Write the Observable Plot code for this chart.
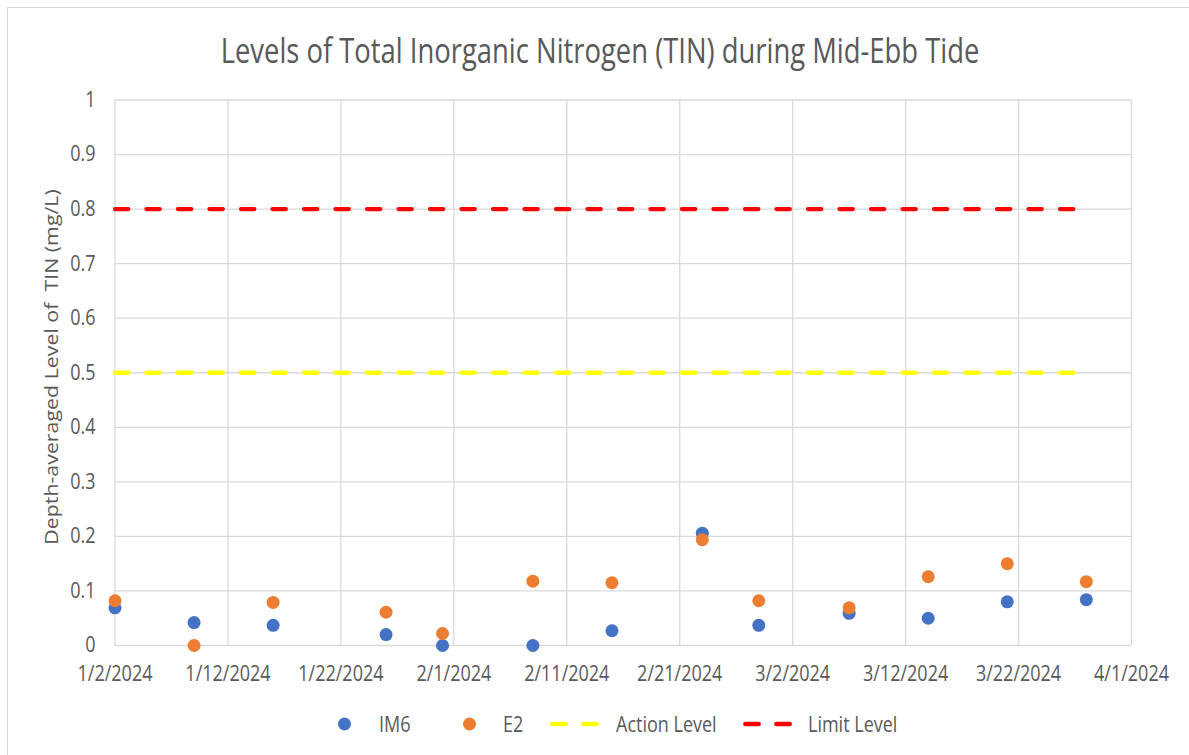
<!DOCTYPE html>
<html>
<head>
<meta charset="utf-8">
<script src="https://cdn.jsdelivr.net/npm/d3@7"></script>
<script src="https://cdn.jsdelivr.net/npm/@observablehq/plot@0.6"></script>
<style>
  body { margin: 0; background: #fff; }
  #wrap { position: relative; width: 1189px; height: 755px; overflow: hidden; font-family: "Open Sans", sans-serif; color: #595959; background: #fff; }
  #border { position: absolute; left: 7px; top: 7px; width: 1400px; height: 1000px; border: 1px solid #d9d9d9; box-sizing: border-box; }
  #chart { position: absolute; left: 0; top: 0; }
  #title { position: absolute; left: 0; width: 1200px; top: 38px; text-align: center; line-height: 1; white-space: nowrap; transform-origin: 50% 22px; transform: scaleY(1.25); }
  #ylabel { position: absolute; left: 52px; top: 367px; transform: translate(-50%, -50%) rotate(-90deg) scaleX(1.22); font-size: 17.5px; white-space: pre; line-height: 1; }
  .leg { position: absolute; top: 724px; transform: translateY(-50%); font-size: 18px; line-height: 1; white-space: nowrap; }
  .legtext { transform: translateY(-50%) scaleY(1.16); }
  .dot { width: 13px; height: 13px; border-radius: 50%; }
</style>
</head>
<body>
<div id="wrap">
  <div id="border"></div>
  <div id="chart"></div>
  <div id="title"></div>
  <div id="ylabel"></div>
  <div id="legend"></div>
</div>
<script>
// ---- data ----
const titleText = "Levels of Total Inorganic Nitrogen (TIN) during Mid-Ebb Tide";
const yLabelText = "Depth-averaged Level of  TIN (mg/L)";
const sampleDates = ["2024-01-02","2024-01-09","2024-01-16","2024-01-26","2024-01-31","2024-02-08","2024-02-15","2024-02-23","2024-02-28","2024-03-07","2024-03-14","2024-03-21","2024-03-28"];
const im6Values = [0.069,0.042,0.037,0.020,0.000,0.000,0.027,0.206,0.037,0.059,0.050,0.080,0.084];
const e2Values  = [0.082,0.000,0.079,0.061,0.022,0.118,0.115,0.194,0.082,0.069,0.126,0.150,0.117];
const levelDates = ["2024-01-02","2024-03-28"];
const actionLevel = 0.5;
const limitLevel = 0.8;
const xTickDates = ["2024-01-02","2024-01-12","2024-01-22","2024-02-01","2024-02-11","2024-02-21","2024-03-02","2024-03-12","2024-03-22","2024-04-01"];
const yTicks = [0,0.1,0.2,0.3,0.4,0.5,0.6,0.7,0.8,0.9,1];
const seriesNames = ["IM6","E2","Action Level","Limit Level"];
const seriesColors = ["#4472C4","#ED7D31","#FFFF00","#FF0000"];

// ---- build ----
const parse = s => new Date(s + "T00:00:00Z");
const im6 = sampleDates.map((d,i) => ({date: parse(d), v: im6Values[i]}));
const e2 = sampleDates.map((d,i) => ({date: parse(d), v: e2Values[i]}));
const action = levelDates.map(d => ({date: parse(d), v: actionLevel}));
const limit = levelDates.map(d => ({date: parse(d), v: limitLevel}));
const xTicks = xTickDates.map(parse);
const fmt = d3.utcFormat("%-m/%-d/%Y");
const gridStyle = {stroke: "#d9d9d9", strokeOpacity: 1, strokeWidth: 1.3};
const dash = {strokeWidth: 4.3, strokeDasharray: "13.3,18.2", strokeLinecap: "round"};

const chart = Plot.plot({
  width: 1189,
  height: 755,
  marginLeft: 114.5,
  marginRight: 58,
  marginTop: 99.5,
  marginBottom: 110,
  style: {fontFamily: "'Open Sans', sans-serif", fontSize: "18px", color: "#595959", background: "transparent", overflow: "visible"},
  x: {type: "utc", domain: [xTicks[0], xTicks[xTicks.length-1]]},
  y: {domain: [0, 1]},
  marks: [
    Plot.gridX(xTicks, gridStyle),
    Plot.gridY(yTicks, gridStyle),
    Plot.axisX(xTicks, {tickSize: 0, tickPadding: 22, tickFormat: fmt, label: null, fontSize: 18}),
    Plot.axisY(yTicks, {tickSize: 0, tickPadding: 19.5, tickFormat: d => String(+d.toFixed(1)), label: null, fontSize: 18}),
    Plot.line(action, {x: "date", y: "v", stroke: seriesColors[2], ...dash}),
    Plot.line(limit, {x: "date", y: "v", stroke: seriesColors[3], ...dash}),
    Plot.dot(im6, {x: "date", y: "v", r: 6.5, fill: seriesColors[0], stroke: "none"}),
    Plot.dot(e2, {x: "date", y: "v", r: 6.5, fill: seriesColors[1], stroke: "none"})
  ]
});
document.getElementById("chart").appendChild(chart);

// stretch the axis text vertically about its own centre (reference glyphs are tall)
chart.querySelectorAll("text").forEach(t => {
  const b = t.getBBox();
  const cy = b.y + b.height / 2;
  const tr = t.getAttribute("transform") || "";
  t.setAttribute("transform", `${tr} translate(0,${cy}) scale(1,1.16) translate(0,${-cy})`);
});

// title fitted to the reference width
const titleEl = document.getElementById("title");
titleEl.textContent = titleText;
const ctx = document.createElement("canvas").getContext("2d");
ctx.font = '100px "Open Sans"';
const tw = ctx.measureText(titleText).width;
titleEl.style.fontSize = (759 / tw * 100).toFixed(2) + "px";

document.getElementById("ylabel").textContent = yLabelText;

// legend
const legend = document.getElementById("legend");
const legendLayout = [
  {kind: "dot", swatchLeft: 337.5, textLeft: 379},
  {kind: "dot", swatchLeft: 462.5, textLeft: 503},
  {kind: "dash", swatchLeft: 550, textLeft: 616},
  {kind: "dash", swatchLeft: 743, textLeft: 808}
];
legendLayout.forEach((L, i) => {
  const sw = document.createElement("div");
  sw.className = "leg";
  sw.style.left = L.swatchLeft + "px";
  if (L.kind === "dot") {
    sw.innerHTML = `<div class="dot" style="background:${seriesColors[i]}"></div>`;
  } else {
    sw.innerHTML = `<svg width="49" height="10" style="display:block"><line x1="2.2" x2="46.8" y1="5" y2="5" stroke="${seriesColors[i]}" stroke-width="4.3" stroke-linecap="round" stroke-dasharray="13.6,17.4"/></svg>`;
  }
  legend.appendChild(sw);
  const tx = document.createElement("div");
  tx.className = "leg legtext";
  tx.style.left = L.textLeft + "px";
  tx.textContent = seriesNames[i];
  legend.appendChild(tx);
});
</script>
</body>
</html>
